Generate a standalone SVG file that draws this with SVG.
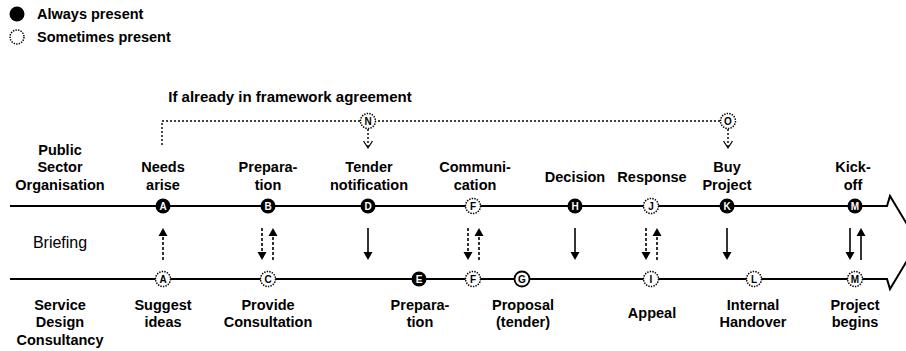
<svg xmlns="http://www.w3.org/2000/svg" width="906" height="351" viewBox="0 0 906 351">
<style>
text{font-family:"Liberation Sans",Arial,sans-serif;font-weight:bold;fill:#000}
.lbl{font-size:14.5px;text-anchor:middle}
.leg{font-size:14.5px}
.head{font-size:15px;text-anchor:middle}
.brief{font-size:16px;font-weight:normal;text-anchor:middle}
.on{fill:#000}
.some{fill:#fff;stroke:#000;stroke-width:1.5;stroke-dasharray:1.4 1.2}
.ring{fill:#fff;stroke:#000;stroke-width:1.8}
.lt{font-size:10px;text-anchor:middle;fill:#fff}
.ld{font-size:10px;text-anchor:middle;fill:#000}
.axis{stroke:#000;stroke-width:2;fill:none}
.dash{stroke:#000;stroke-width:1.6;stroke-dasharray:3 2;fill:none}
.dot{stroke:#000;stroke-width:1.4;stroke-dasharray:2 2;fill:none}
.solid{stroke:#000;stroke-width:1.6;fill:none}
</style>
<defs>
<marker id="ah" markerUnits="userSpaceOnUse" markerWidth="10" markerHeight="10" viewBox="0 -5 10 10" refX="0" refY="0" orient="auto">
<path d="M0,-4.5 L8,0 L0,4.5 z" fill="#000"/>
</marker>
<marker id="av" markerUnits="userSpaceOnUse" markerWidth="10" markerHeight="12" viewBox="0 -6 10 12" refX="7" refY="0" orient="auto">
<path d="M0,-4.5 L7,0 L0,4.5" fill="none" stroke="#000" stroke-width="1.2"/>
</marker>
</defs>

<g id="legend">
<circle cx="17" cy="14" r="7.5" class="on"/>
<text x="37" y="19" class="leg">Always present</text>
<circle cx="17" cy="37" r="7" class="some"/>
<text x="37" y="42" class="leg">Sometimes present</text>
</g>

<g id="lanes">
<text x="60" y="155" class="lbl">Public</text>
<text x="60" y="172" class="lbl">Sector</text>
<text x="60" y="190" class="lbl">Organisation</text>
<text x="60" y="248" class="brief">Briefing</text>
<text x="60" y="310" class="lbl">Service</text>
<text x="60" y="327" class="lbl">Design</text>
<text x="60" y="345" class="lbl">Consultancy</text>
<text x="290" y="102" class="head">If already in framework agreement</text>
</g>

<g id="connectors">
<path class="axis" d="M10 206 H887 L890 196 L918 242.5 L890 289 L887 279 H10"/>
<path class="dot" d="M162 145 V121 H728"/>
<line class="dot" x1="368" y1="129" x2="368" y2="148" marker-end="url(#av)"/>
<line class="dot" x1="728" y1="129" x2="728" y2="148" marker-end="url(#av)"/>
<line class="dash" x1="163" y1="260" x2="163" y2="236" marker-end="url(#ah)"/>
<line class="dash" x1="262" y1="228" x2="262" y2="252" marker-end="url(#ah)"/>
<line class="dash" x1="273" y1="260" x2="273" y2="236" marker-end="url(#ah)"/>
<line class="solid" x1="368" y1="228" x2="368" y2="252" marker-end="url(#ah)"/>
<line class="dash" x1="468" y1="228" x2="468" y2="252" marker-end="url(#ah)"/>
<line class="dash" x1="479" y1="260" x2="479" y2="236" marker-end="url(#ah)"/>
<line class="solid" x1="575" y1="228" x2="575" y2="252" marker-end="url(#ah)"/>
<line class="dash" x1="646" y1="228" x2="646" y2="252" marker-end="url(#ah)"/>
<line class="dash" x1="657" y1="260" x2="657" y2="236" marker-end="url(#ah)"/>
<line class="solid" x1="727" y1="228" x2="727" y2="252" marker-end="url(#ah)"/>
<line class="solid" x1="850" y1="228" x2="850" y2="252" marker-end="url(#ah)"/>
<line class="solid" x1="861" y1="260" x2="861" y2="236" marker-end="url(#ah)"/>
</g>

<g id="node-N"><circle cx="368" cy="121" r="7.5" class="some"/><text x="368" y="124.6" class="ld">N</text></g>
<g id="node-O"><circle cx="728" cy="121" r="7.5" class="some"/><text x="728" y="124.6" class="ld">O</text></g>

<g id="node-A-top"><text x="163" y="172" class="lbl">Needs</text><text x="163" y="190" class="lbl">arise</text><circle cx="163" cy="206" r="7.5" class="on"/><text x="163" y="209.6" class="lt">A</text></g>
<g id="node-B"><text x="268" y="172" class="lbl">Prepara-</text><text x="268" y="190" class="lbl">tion</text><circle cx="268" cy="206" r="7.5" class="on"/><text x="268" y="209.6" class="lt">B</text></g>
<g id="node-D"><text x="369" y="172" class="lbl">Tender</text><text x="369" y="190" class="lbl">notification</text><circle cx="368" cy="206" r="7.5" class="on"/><text x="368" y="209.6" class="lt">D</text></g>
<g id="node-F-top"><text x="475" y="172" class="lbl">Communi-</text><text x="475" y="190" class="lbl">cation</text><circle cx="473" cy="206" r="7.5" class="some"/><text x="473" y="209.6" class="ld">F</text></g>
<g id="node-H"><text x="575" y="182" class="lbl">Decision</text><circle cx="575" cy="206" r="7.5" class="on"/><text x="575" y="209.6" class="lt">H</text></g>
<g id="node-J"><text x="652" y="182" class="lbl">Response</text><circle cx="651" cy="206" r="7.5" class="some"/><text x="651" y="209.6" class="ld">J</text></g>
<g id="node-K"><text x="727" y="172" class="lbl">Buy</text><text x="727" y="190" class="lbl">Project</text><circle cx="727" cy="206" r="7.5" class="on"/><text x="727" y="209.6" class="lt">K</text></g>
<g id="node-M-top"><text x="853" y="172" class="lbl">Kick-</text><text x="853" y="190" class="lbl">off</text><circle cx="855" cy="206" r="7.5" class="on"/><text x="855" y="209.6" class="lt">M</text></g>

<g id="node-A-bottom"><circle cx="163" cy="279" r="7.5" class="some"/><text x="163" y="282.6" class="ld">A</text><text x="163" y="310" class="lbl">Suggest</text><text x="163" y="327" class="lbl">ideas</text></g>
<g id="node-C"><circle cx="268" cy="279" r="7.5" class="some"/><text x="268" y="282.6" class="ld">C</text><text x="268" y="310" class="lbl">Provide</text><text x="268" y="327" class="lbl">Consultation</text></g>
<g id="node-E"><circle cx="419" cy="279" r="7.5" class="on"/><text x="419" y="282.6" class="lt">E</text><text x="420" y="310" class="lbl">Prepara-</text><text x="420" y="327" class="lbl">tion</text></g>
<g id="node-F-bottom"><circle cx="473" cy="279" r="7.5" class="some"/><text x="473" y="282.6" class="ld">F</text></g>
<g id="node-G"><circle cx="522" cy="279" r="7.5" class="ring"/><text x="522" y="282.6" class="ld">G</text><text x="523" y="310" class="lbl">Proposal</text><text x="523" y="327" class="lbl">(tender)</text></g>
<g id="node-I"><circle cx="651" cy="279" r="7.5" class="some"/><text x="651" y="282.6" class="ld">I</text><text x="652" y="318" class="lbl">Appeal</text></g>
<g id="node-L"><circle cx="754" cy="279" r="7.5" class="some"/><text x="754" y="282.6" class="ld">L</text><text x="753" y="310" class="lbl">Internal</text><text x="753" y="327" class="lbl">Handover</text></g>
<g id="node-M-bottom"><circle cx="855" cy="279" r="7.5" class="some"/><text x="855" y="282.6" class="ld">M</text><text x="855" y="310" class="lbl">Project</text><text x="855" y="327" class="lbl">begins</text></g>
</svg>
